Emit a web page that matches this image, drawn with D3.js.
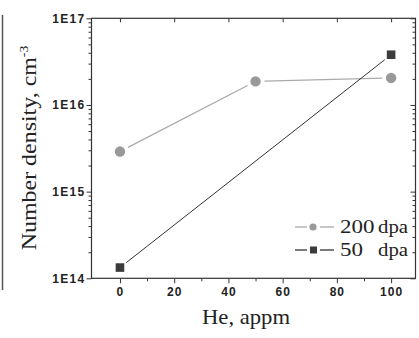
<!DOCTYPE html>
<html><head><meta charset="utf-8">
<script src="https://cdn.jsdelivr.net/npm/d3@7"></script>
<style>body{margin:0;background:#fff}svg{display:block}</style>
</head><body>
<svg id="c" width="419" height="338"></svg>
<script>
const heX = [0, 50, 100];
const dens200 = [2.9e15, 1.87e16, 2.05e16];
const heX50 = [0, 100];
const dens50 = [1.33e14, 3.8e16];
const xTicks = [0, 20, 40, 60, 80, 100];
const xMinor = [10, 30, 50, 70, 90];
const yTicks = [1e14, 1e15, 1e16, 1e17];
const yTickLabels = ["1E14", "1E15", "1E16", "1E17"];
const seriesNames = ["200 dpa", "50 dpa"];

const svg = d3.select("#c");
const x = d3.scaleLinear().domain([-10.5, 109]).range([91.5, 415.5]);
const y = d3.scaleLog().domain([1e14, 1e17]).range([278.3, 18.3]);
const frame = "#333";

// left edge rule
svg.append("line").attr("x1", 2.5).attr("x2", 2.5).attr("y1", 15).attr("y2", 290)
  .attr("stroke", "#555").attr("stroke-width", 1.5);

const yMinor = [];
[14, 15, 16].forEach(e => { for (let k = 2; k <= 9; k++) yMinor.push(k * Math.pow(10, e)); });

const [X0, X1] = x.range(); const [Y0, Y1] = y.range();
const g = svg.append("g");
// bottom axis
const bottom = g.append("g").attr("transform", `translate(0,${Y0})`)
  .call(d3.axisBottom(x).tickValues(xTicks).tickSize(5).tickFormat(d => d));
bottom.select(".domain").remove();
bottom.selectAll("line").attr("stroke", frame);
bottom.selectAll("text").attr("font-family", "Liberation Sans, Arial, sans-serif").attr("font-weight", "bold")
  .attr("font-size", 12).attr("letter-spacing", "1px").attr("fill", "#222").attr("y", 9);
g.append("g").attr("transform", `translate(0,${Y0})`)
  .call(d3.axisBottom(x).tickValues(xMinor).tickSize(3).tickFormat(""))
  .call(a => { a.select(".domain").remove(); a.selectAll("line").attr("stroke", frame); });
// top axis (inward)
g.append("g").attr("transform", `translate(0,${Y1})`)
  .call(d3.axisBottom(x).tickValues(xTicks).tickSize(4).tickFormat(""))
  .call(a => { a.select(".domain").remove(); a.selectAll("line").attr("stroke", frame); });
// left axis
const left = g.append("g").attr("transform", `translate(${X0},0)`)
  .call(d3.axisLeft(y).tickValues(yTicks).tickSize(5).tickFormat((d, i) => yTickLabels[i]));
left.select(".domain").remove();
left.selectAll("line").attr("stroke", frame);
left.selectAll("text").attr("font-family", "Liberation Sans, Arial, sans-serif").attr("font-weight", "bold")
  .attr("font-size", 12).attr("letter-spacing", "1.3px").attr("fill", "#222").attr("x", -6);
g.append("g").attr("transform", `translate(${X0},0)`)
  .call(d3.axisLeft(y).tickValues(yMinor).tickSize(3).tickFormat(""))
  .call(a => { a.select(".domain").remove(); a.selectAll("line").attr("stroke", frame); });
// right axis (inward)
g.append("g").attr("transform", `translate(${X1},0)`)
  .call(d3.axisLeft(y).tickValues(yTicks).tickSize(5).tickFormat(""))
  .call(a => { a.select(".domain").remove(); a.selectAll("line").attr("stroke", frame); });
g.append("g").attr("transform", `translate(${X1},0)`)
  .call(d3.axisLeft(y).tickValues(yMinor).tickSize(3).tickFormat(""))
  .call(a => { a.select(".domain").remove(); a.selectAll("line").attr("stroke", frame); });
// frame
svg.append("rect").attr("x", X0).attr("y", Y1).attr("width", X1 - X0).attr("height", Y0 - Y1)
  .attr("fill", "none").attr("stroke", frame).attr("stroke-width", 1.2);

// gapped lines
function gapLines(xs, ys, color, w, gap) {
  for (let i = 0; i < xs.length - 1; i++) {
    const ax = x(xs[i]), ay = y(ys[i]), bx = x(xs[i + 1]), by = y(ys[i + 1]);
    const L = Math.hypot(bx - ax, by - ay), ux = (bx - ax) / L, uy = (by - ay) / L;
    svg.append("line").attr("x1", ax + ux * gap).attr("y1", ay + uy * gap)
      .attr("x2", bx - ux * gap).attr("y2", by - uy * gap)
      .attr("stroke", color).attr("stroke-width", w);
  }
}
gapLines(heX, dens200, "#aaa", 1.3, 9);
gapLines(heX50, dens50, "#333", 1, 8);

svg.selectAll("circle.s200").data(heX).enter().append("circle")
  .attr("cx", d => x(d)).attr("cy", (d, i) => y(dens200[i])).attr("r", 5.2).attr("fill", "#999");
svg.selectAll("rect.s50").data(heX50).enter().append("rect")
  .attr("x", d => x(d) - 4.3).attr("y", (d, i) => y(dens50[i]) - 4.3).attr("width", 8.6).attr("height", 8.6)
  .attr("fill", "#3c3c3c");

// legend
const serif = "Liberation Serif, Times New Roman, serif";
const legY = [227, 250];
seriesNames.forEach((name, i) => {
  const ly = legY[i];
  const col = i === 0 ? "#aaa" : "#333";
  svg.append("line").attr("x1", 295).attr("x2", 307).attr("y1", ly).attr("y2", ly).attr("stroke", col).attr("stroke-width", 1.3);
  svg.append("line").attr("x1", 320).attr("x2", 334).attr("y1", ly).attr("y2", ly).attr("stroke", col).attr("stroke-width", 1.3);
  if (i === 0) svg.append("circle").attr("cx", 313).attr("cy", ly).attr("r", 3.6).attr("fill", "#999");
  else svg.append("rect").attr("x", 310).attr("y", ly - 3.5).attr("width", 7).attr("height", 7).attr("fill", "#3c3c3c");
  const parts = name.split(" ");
  svg.append("text").attr("x", 340).attr("y", ly + 6).attr("font-family", serif).attr("font-size", 18)
    .attr("fill", "#222").attr("textLength", parts[0].length * 11.5).attr("lengthAdjust", "spacingAndGlyphs").text(parts[0]);
  svg.append("text").attr("x", 378).attr("y", ly + 6).attr("font-family", serif).attr("font-size", 18)
    .attr("fill", "#222").attr("textLength", 30).attr("lengthAdjust", "spacingAndGlyphs").text(parts[1]);
});

// axis titles
svg.append("text").attr("x", 246).attr("y", 324).attr("text-anchor", "middle")
  .attr("font-family", serif).attr("font-size", 21).attr("fill", "#222")
  .attr("textLength", 88).attr("lengthAdjust", "spacingAndGlyphs").text("He, appm");
const yl = svg.append("text").attr("transform", "translate(36,148) rotate(-90) scale(1.14,1)").attr("text-anchor", "middle")
  .attr("font-family", serif).attr("font-size", 21).attr("fill", "#222");
yl.append("tspan").text("Number density, cm");
yl.append("tspan").attr("font-size", 12).attr("dy", -8).text("-3");
</script>
</body></html>
